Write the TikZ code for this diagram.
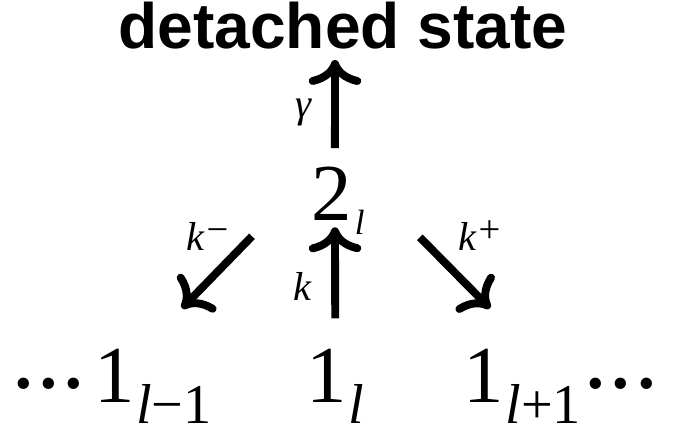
\documentclass[tikz,border=0pt]{standalone}
\usepackage{fontspec}
\setmainfont{Liberation Serif}
\newfontfamily\headfont{Liberation Sans}
\usetikzlibrary{arrows.meta, positioning, calc}

% lowered indices under the big numbers
\newcommand{\lowsub}[1]{\kern1pt\raisebox{-12pt}{\fontsize{32}{32}\selectfont #1}}
\newcommand{\topsub}[1]{\kern1.7pt\raisebox{-8.5pt}{\fontsize{20}{20}\selectfont #1}}
\newcommand{\supsc}[1]{\raisebox{4pt}{\fontsize{22}{22}\selectfont #1}}
\newcommand{\onedot}{\raisebox{1.3pt}{\fontsize{27}{27}\selectfont •}}
\newcommand{\hdots}{\onedot\kern4.8pt\onedot\kern4.8pt\onedot}

\begin{document}
\begin{tikzpicture}[
    x=0.02cm, y=-0.02cm,
    state/.style={inner sep=0pt, font=\fontsize{46}{46}\selectfont},
    rate/.style={inner sep=0pt, font=\fontsize{23}{23}\selectfont\itshape},
    arrow/.style={line width=4.5pt, -{Computer Modern Rightarrow[length=0.5cm, width=1.05cm]}}
  ]
    \useasboundingbox (0,0) rectangle (686,433);

    % Detached state on top
    \node[anchor=base, inner sep=0pt, font=\headfont\bfseries\fontsize{36.5}{40}\selectfont] (det) at (343,48) {detached state};

    % Doubly bound site
    \node[state, anchor=base west] (twol) at (311,220) {2\topsub{\itshape l}};

    % Singly bound sites
    \node[state, anchor=base east] (onelm) at (212,402) {\hdots\kern6.5pt 1\lowsub{{\itshape l}−1}};
    \node[state, anchor=base west] (onel) at (306,402) {1\lowsub{\itshape l}};
    \node[state, anchor=base west] (onelp) at (463,402) {1\lowsub{{\itshape l}+1}\kern4pt\hdots};

    % Arrows
    \draw[arrow] ([shift={(-3,-18)}]twol.north) -- ([shift={(-8,11)}]det.south);
    \draw[arrow] ([shift={(0,-30)}]onel.north) -- ([shift={(-3,-8)}]twol.south);
    \draw[arrow] ([shift={(-59,1)}]twol.south west) -- ([shift={(-30,-40)}]onelm.north east);
    \draw[arrow] ([shift={(55,2)}]twol.south east) -- ([shift={(27,-40)}]onelp.north west);

    % Rates
    \node[rate] (gam) at (303,113) {γ};
    \node[rate] (kup) at (302,286) {k};
    \node[rate, anchor=base west] (kminus) at (186,250) {k\supsc{−}};
    \node[rate, anchor=base west] (kplus) at (458,250) {k\supsc{+}};
  \end{tikzpicture}
\end{document}
